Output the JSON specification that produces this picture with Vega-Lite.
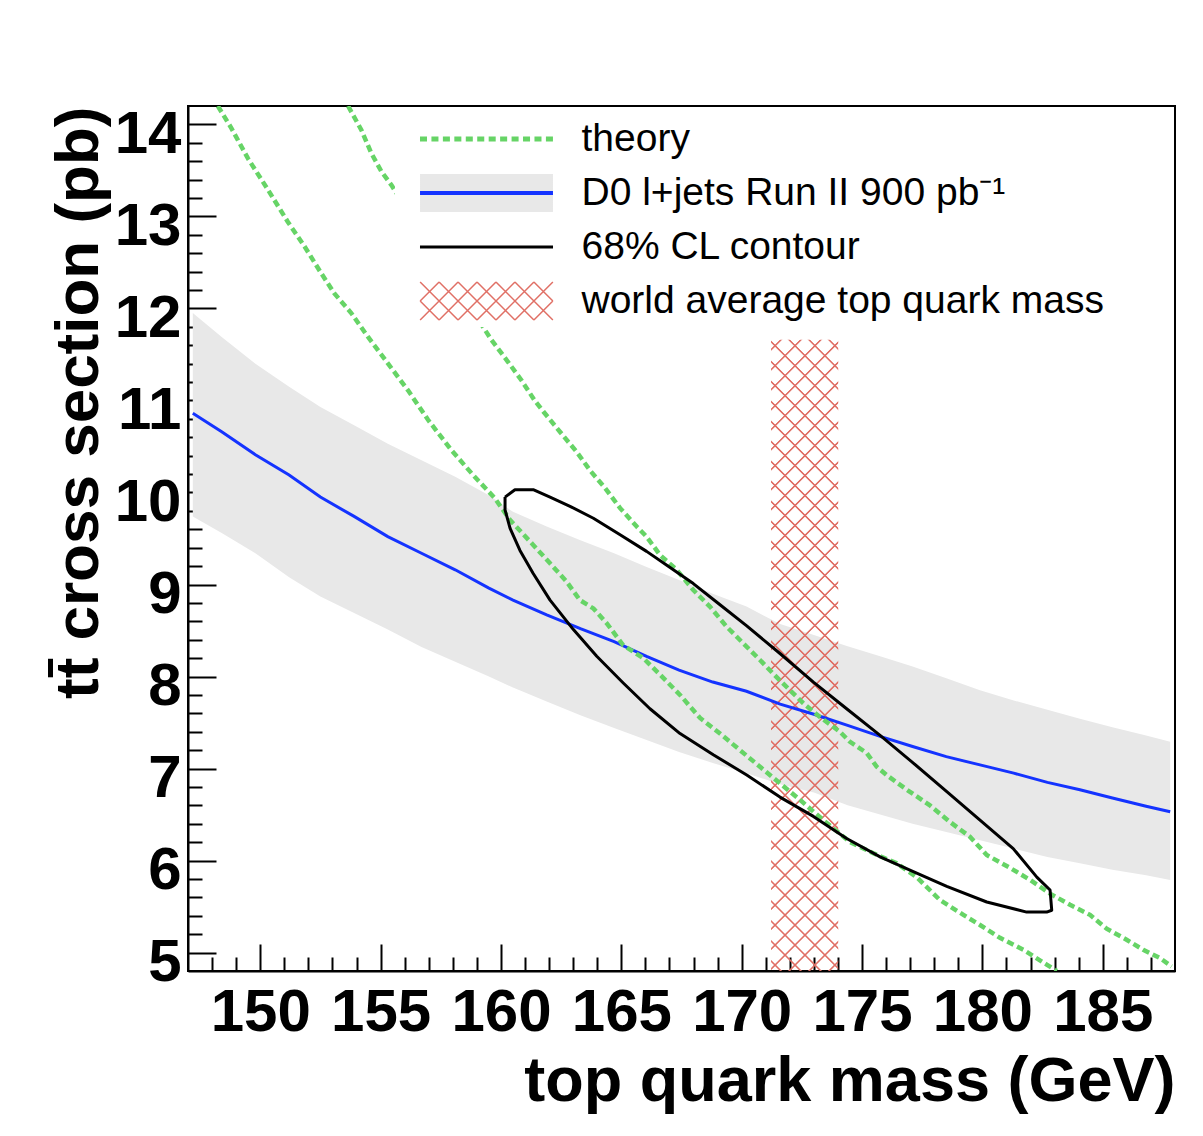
{
  "$schema": "https://vega.github.io/schema/vega-lite/v6.json",
  "width": 987,
  "height": 865,
  "autosize": {"type": "none"},
  "padding": {"left": 188, "top": 106, "right": 28, "bottom": 165},
  "background": "white",
  "config": {
    "view": {"stroke": "black", "strokeWidth": 2},
    "axis": {
      "domainColor": "black", "domainWidth": 2, "grid": false,
      "tickColor": "black", "tickWidth": 2,
      "labelFont": "Liberation Sans", "labelFontWeight": "bold", "labelFontSize": 60, "labelColor": "black",
      "titleFont": "Liberation Sans", "titleFontWeight": "bold", "titleFontSize": 62, "titleColor": "black"
    }
  },
  "datasets": {
    "band": [
      {"m": 147.2, "lo": 9.74, "c": 10.86, "hi": 11.95},
      {"m": 148.4, "lo": 9.56, "c": 10.66, "hi": 11.69},
      {"m": 149.8, "lo": 9.34, "c": 10.41, "hi": 11.40},
      {"m": 151.2, "lo": 9.08, "c": 10.19, "hi": 11.15},
      {"m": 152.5, "lo": 8.87, "c": 9.95, "hi": 10.93},
      {"m": 153.9, "lo": 8.69, "c": 9.74, "hi": 10.73},
      {"m": 155.3, "lo": 8.51, "c": 9.52, "hi": 10.53},
      {"m": 156.7, "lo": 8.32, "c": 9.34, "hi": 10.35},
      {"m": 158.1, "lo": 8.16, "c": 9.16, "hi": 10.17},
      {"m": 159.5, "lo": 8.00, "c": 8.96, "hi": 9.97},
      {"m": 160.5, "lo": 7.88, "c": 8.83, "hi": 9.79},
      {"m": 161.9, "lo": 7.73, "c": 8.67, "hi": 9.63},
      {"m": 163.3, "lo": 7.58, "c": 8.52, "hi": 9.48},
      {"m": 164.7, "lo": 7.44, "c": 8.38, "hi": 9.34},
      {"m": 166.05, "lo": 7.31, "c": 8.22, "hi": 9.19},
      {"m": 167.4, "lo": 7.18, "c": 8.07, "hi": 9.05},
      {"m": 168.8, "lo": 7.06, "c": 7.94, "hi": 8.90},
      {"m": 170.2, "lo": 6.95, "c": 7.84, "hi": 8.76},
      {"m": 171.6, "lo": 6.83, "c": 7.70, "hi": 8.57},
      {"m": 173.0, "lo": 6.74, "c": 7.59, "hi": 8.45},
      {"m": 174.4, "lo": 6.60, "c": 7.47, "hi": 8.33},
      {"m": 175.75, "lo": 6.50, "c": 7.35, "hi": 8.22},
      {"m": 177.1, "lo": 6.40, "c": 7.24, "hi": 8.11},
      {"m": 178.5, "lo": 6.31, "c": 7.13, "hi": 7.98},
      {"m": 179.9, "lo": 6.22, "c": 7.04, "hi": 7.85},
      {"m": 181.3, "lo": 6.13, "c": 6.95, "hi": 7.74},
      {"m": 182.7, "lo": 6.04, "c": 6.85, "hi": 7.64},
      {"m": 184.05, "lo": 5.97, "c": 6.77, "hi": 7.54},
      {"m": 185.4, "lo": 5.90, "c": 6.68, "hi": 7.45},
      {"m": 186.8, "lo": 5.84, "c": 6.59, "hi": 7.36},
      {"m": 187.8, "lo": 5.79, "c": 6.53, "hi": 7.29}
    ],
    "theory": [
      {"m": 148.24, "s": 14.2, "curve": "lo"},
      {"m": 148.80, "s": 13.96, "curve": "lo"},
      {"m": 149.49, "s": 13.63, "curve": "lo"},
      {"m": 150.32, "s": 13.29, "curve": "lo"},
      {"m": 151.15, "s": 12.94, "curve": "lo"},
      {"m": 151.85, "s": 12.67, "curve": "lo"},
      {"m": 152.54, "s": 12.38, "curve": "lo"},
      {"m": 153.09, "s": 12.16, "curve": "lo"},
      {"m": 153.78, "s": 11.95, "curve": "lo"},
      {"m": 154.48, "s": 11.69, "curve": "lo"},
      {"m": 155.31, "s": 11.40, "curve": "lo"},
      {"m": 156.14, "s": 11.11, "curve": "lo"},
      {"m": 156.97, "s": 10.79, "curve": "lo"},
      {"m": 157.94, "s": 10.46, "curve": "lo"},
      {"m": 158.91, "s": 10.17, "curve": "lo"},
      {"m": 159.74, "s": 9.94, "curve": "lo"},
      {"m": 160.38, "s": 9.70, "curve": "lo"},
      {"m": 161.34, "s": 9.43, "curve": "lo"},
      {"m": 162.04, "s": 9.23, "curve": "lo"},
      {"m": 162.73, "s": 9.03, "curve": "lo"},
      {"m": 163.28, "s": 8.83, "curve": "lo"},
      {"m": 163.84, "s": 8.74, "curve": "lo"},
      {"m": 164.39, "s": 8.58, "curve": "lo"},
      {"m": 165.08, "s": 8.34, "curve": "lo"},
      {"m": 165.91, "s": 8.20, "curve": "lo"},
      {"m": 166.61, "s": 8.02, "curve": "lo"},
      {"m": 167.44, "s": 7.80, "curve": "lo"},
      {"m": 168.27, "s": 7.55, "curve": "lo"},
      {"m": 169.10, "s": 7.38, "curve": "lo"},
      {"m": 169.93, "s": 7.20, "curve": "lo"},
      {"m": 170.76, "s": 7.02, "curve": "lo"},
      {"m": 171.59, "s": 6.84, "curve": "lo"},
      {"m": 172.42, "s": 6.66, "curve": "lo"},
      {"m": 173.39, "s": 6.44, "curve": "lo"},
      {"m": 174.50, "s": 6.20, "curve": "lo"},
      {"m": 175.47, "s": 6.08, "curve": "lo"},
      {"m": 176.44, "s": 5.97, "curve": "lo"},
      {"m": 177.27, "s": 5.82, "curve": "lo"},
      {"m": 178.24, "s": 5.57, "curve": "lo"},
      {"m": 179.21, "s": 5.41, "curve": "lo"},
      {"m": 179.90, "s": 5.30, "curve": "lo"},
      {"m": 180.73, "s": 5.16, "curve": "lo"},
      {"m": 181.70, "s": 5.03, "curve": "lo"},
      {"m": 182.67, "s": 4.87, "curve": "lo"},
      {"m": 183.09, "s": 4.80, "curve": "lo"},
      {"m": 153.65, "s": 14.2, "curve": "up"},
      {"m": 154.20, "s": 13.94, "curve": "up"},
      {"m": 154.61, "s": 13.69, "curve": "up"},
      {"m": 155.03, "s": 13.49, "curve": "up"},
      {"m": 155.45, "s": 13.34, "curve": "up"},
      {"m": 159.60, "s": 11.66, "curve": "up"},
      {"m": 160.29, "s": 11.42, "curve": "up"},
      {"m": 160.85, "s": 11.22, "curve": "up"},
      {"m": 161.40, "s": 11.00, "curve": "up"},
      {"m": 161.76, "s": 10.88, "curve": "up"},
      {"m": 162.45, "s": 10.66, "curve": "up"},
      {"m": 163.15, "s": 10.44, "curve": "up"},
      {"m": 163.70, "s": 10.24, "curve": "up"},
      {"m": 164.32, "s": 10.05, "curve": "up"},
      {"m": 164.95, "s": 9.83, "curve": "up"},
      {"m": 165.64, "s": 9.63, "curve": "up"},
      {"m": 166.05, "s": 9.52, "curve": "up"},
      {"m": 166.61, "s": 9.32, "curve": "up"},
      {"m": 167.30, "s": 9.16, "curve": "up"},
      {"m": 167.99, "s": 8.94, "curve": "up"},
      {"m": 168.68, "s": 8.76, "curve": "up"},
      {"m": 169.38, "s": 8.54, "curve": "up"},
      {"m": 170.07, "s": 8.36, "curve": "up"},
      {"m": 170.76, "s": 8.18, "curve": "up"},
      {"m": 171.31, "s": 8.03, "curve": "up"},
      {"m": 172.01, "s": 7.85, "curve": "up"},
      {"m": 172.56, "s": 7.71, "curve": "up"},
      {"m": 173.25, "s": 7.56, "curve": "up"},
      {"m": 174.08, "s": 7.40, "curve": "up"},
      {"m": 174.50, "s": 7.29, "curve": "up"},
      {"m": 175.19, "s": 7.17, "curve": "up"},
      {"m": 175.61, "s": 7.02, "curve": "up"},
      {"m": 176.02, "s": 6.93, "curve": "up"},
      {"m": 176.86, "s": 6.77, "curve": "up"},
      {"m": 177.82, "s": 6.60, "curve": "up"},
      {"m": 178.65, "s": 6.42, "curve": "up"},
      {"m": 179.48, "s": 6.26, "curve": "up"},
      {"m": 180.18, "s": 6.06, "curve": "up"},
      {"m": 181.15, "s": 5.92, "curve": "up"},
      {"m": 181.98, "s": 5.79, "curve": "up"},
      {"m": 182.81, "s": 5.64, "curve": "up"},
      {"m": 183.64, "s": 5.52, "curve": "up"},
      {"m": 184.47, "s": 5.41, "curve": "up"},
      {"m": 185.16, "s": 5.26, "curve": "up"},
      {"m": 185.99, "s": 5.14, "curve": "up"},
      {"m": 186.68, "s": 5.03, "curve": "up"},
      {"m": 187.38, "s": 4.94, "curve": "up"},
      {"m": 187.86, "s": 4.85, "curve": "up"}
    ],
    "contour": [
      {"ord": 1, "m": 160.17, "s": 9.95, "series": "68% CL contour"},
      {"ord": 2, "m": 160.58, "s": 10.03, "series": "68% CL contour"},
      {"ord": 3, "m": 161.34, "s": 10.03, "series": "68% CL contour"},
      {"ord": 4, "m": 162.04, "s": 9.95, "series": "68% CL contour"},
      {"ord": 5, "m": 162.87, "s": 9.85, "series": "68% CL contour"},
      {"ord": 6, "m": 163.84, "s": 9.72, "series": "68% CL contour"},
      {"ord": 7, "m": 164.95, "s": 9.54, "series": "68% CL contour"},
      {"ord": 8, "m": 166.05, "s": 9.36, "series": "68% CL contour"},
      {"ord": 9, "m": 166.89, "s": 9.21, "series": "68% CL contour"},
      {"ord": 10, "m": 167.99, "s": 9.01, "series": "68% CL contour"},
      {"ord": 11, "m": 169.10, "s": 8.78, "series": "68% CL contour"},
      {"ord": 12, "m": 170.21, "s": 8.55, "series": "68% CL contour"},
      {"ord": 13, "m": 171.59, "s": 8.25, "series": "68% CL contour"},
      {"ord": 14, "m": 172.98, "s": 7.94, "series": "68% CL contour"},
      {"ord": 15, "m": 174.36, "s": 7.65, "series": "68% CL contour"},
      {"ord": 16, "m": 175.75, "s": 7.36, "series": "68% CL contour"},
      {"ord": 17, "m": 177.13, "s": 7.06, "series": "68% CL contour"},
      {"ord": 18, "m": 178.52, "s": 6.75, "series": "68% CL contour"},
      {"ord": 19, "m": 179.90, "s": 6.44, "series": "68% CL contour"},
      {"ord": 20, "m": 181.28, "s": 6.13, "series": "68% CL contour"},
      {"ord": 21, "m": 182.26, "s": 5.82, "series": "68% CL contour"},
      {"ord": 22, "m": 182.81, "s": 5.68, "series": "68% CL contour"},
      {"ord": 23, "m": 182.88, "s": 5.46, "series": "68% CL contour"},
      {"ord": 24, "m": 182.67, "s": 5.44, "series": "68% CL contour"},
      {"ord": 25, "m": 181.84, "s": 5.44, "series": "68% CL contour"},
      {"ord": 26, "m": 180.18, "s": 5.55, "series": "68% CL contour"},
      {"ord": 27, "m": 178.52, "s": 5.72, "series": "68% CL contour"},
      {"ord": 28, "m": 177.13, "s": 5.88, "series": "68% CL contour"},
      {"ord": 29, "m": 175.75, "s": 6.04, "series": "68% CL contour"},
      {"ord": 30, "m": 174.36, "s": 6.24, "series": "68% CL contour"},
      {"ord": 31, "m": 172.98, "s": 6.48, "series": "68% CL contour"},
      {"ord": 32, "m": 171.59, "s": 6.69, "series": "68% CL contour"},
      {"ord": 33, "m": 170.21, "s": 6.93, "series": "68% CL contour"},
      {"ord": 34, "m": 168.82, "s": 7.15, "series": "68% CL contour"},
      {"ord": 35, "m": 167.44, "s": 7.38, "series": "68% CL contour"},
      {"ord": 36, "m": 166.19, "s": 7.65, "series": "68% CL contour"},
      {"ord": 37, "m": 165.08, "s": 7.93, "series": "68% CL contour"},
      {"ord": 38, "m": 163.98, "s": 8.22, "series": "68% CL contour"},
      {"ord": 39, "m": 163.01, "s": 8.51, "series": "68% CL contour"},
      {"ord": 40, "m": 162.04, "s": 8.83, "series": "68% CL contour"},
      {"ord": 41, "m": 161.34, "s": 9.12, "series": "68% CL contour"},
      {"ord": 42, "m": 160.79, "s": 9.37, "series": "68% CL contour"},
      {"ord": 43, "m": 160.38, "s": 9.61, "series": "68% CL contour"},
      {"ord": 44, "m": 160.17, "s": 9.81, "series": "68% CL contour"},
      {"ord": 45, "m": 160.17, "s": 9.95, "series": "68% CL contour"}
    ],
    "wa": [
      {"m1": 171.22, "m2": 174.01, "s1": 4.8, "s2": 11.66}
    ]
  },
  "layer": [
    {
      "data": {"name": "band"},
      "mark": {"type": "area", "fill": "#e8e8e8", "clip": true},
      "encoding": {
        "x": {
          "field": "m", "type": "quantitative",
          "scale": {"domain": [147, 188], "nice": false, "zero": false},
          "axis": {
            "title": "top quark mass (GeV)",
            "titleFontSize": 63,
            "values": [148,149,150,151,152,153,154,155,156,157,158,159,160,161,162,163,164,165,166,167,168,169,170,171,172,173,174,175,176,177,178,179,180,181,182,183,184,185,186,187],
            "tickCount": 200,
            "labelExpr": "datum.value % 5 === 0 ? '' + datum.value : ''",
            "labelOverlap": false, "labelFlush": false,
            "tickSize": {"condition": {"test": "datum.value % 5 === 0", "value": -27}, "value": -14},
            "labelPadding": 39,
            "titleAnchor": "end", "titlePadding": -5
          }
        },
        "y": {
          "field": "lo", "type": "quantitative",
          "scale": {"domain": [4.8, 14.2], "nice": false, "zero": false},
          "axis": {
            "title": "tt\u0304 cross section (pb)",
            "values": [5,5.2,5.4,5.6,5.8,6,6.2,6.4,6.6,6.8,7,7.2,7.4,7.6,7.8,8,8.2,8.4,8.6,8.8,9,9.2,9.4,9.6,9.8,10,10.2,10.4,10.6,10.8,11,11.2,11.4,11.6,11.8,12,12.2,12.4,12.6,12.8,13,13.2,13.4,13.6,13.8,14],
            "tickCount": 200,
            "labelExpr": "abs(datum.value - round(datum.value)) < 0.001 ? '' + round(datum.value) : ''",
            "labelOverlap": false, "labelFlush": false,
            "tickSize": {"condition": {"test": "abs(datum.value - round(datum.value)) < 0.001", "value": -28}, "value": -14},
            "labelPadding": 35, "labelOffset": 10,
            "titleAnchor": "end", "titlePadding": 4
          }
        },
        "y2": {"field": "hi"}
      }
    },
    {
      "data": {"name": "wa"},
      "mark": {
        "type": "rect", "clip": true,
        "fill": {
          "gradient": "linear", "x1": 0, "y1": 0, "x2": 0.1167, "y2": 1.0942,
          "stops": [
            {"offset":0.0119,"color":"rgba(224,112,102,0)"},{"offset":0.0135,"color":"#e07066"},{"offset":0.0151,"color":"#e07066"},{"offset":0.0167,"color":"rgba(224,112,102,0)"},
            {"offset":0.0405,"color":"rgba(224,112,102,0)"},{"offset":0.0421,"color":"#e07066"},{"offset":0.0437,"color":"#e07066"},{"offset":0.0453,"color":"rgba(224,112,102,0)"},
            {"offset":0.0691,"color":"rgba(224,112,102,0)"},{"offset":0.0707,"color":"#e07066"},{"offset":0.0723,"color":"#e07066"},{"offset":0.0739,"color":"rgba(224,112,102,0)"},
            {"offset":0.0977,"color":"rgba(224,112,102,0)"},{"offset":0.0993,"color":"#e07066"},{"offset":0.1009,"color":"#e07066"},{"offset":0.1025,"color":"rgba(224,112,102,0)"},
            {"offset":0.1263,"color":"rgba(224,112,102,0)"},{"offset":0.1279,"color":"#e07066"},{"offset":0.1295,"color":"#e07066"},{"offset":0.1311,"color":"rgba(224,112,102,0)"},
            {"offset":0.1549,"color":"rgba(224,112,102,0)"},{"offset":0.1565,"color":"#e07066"},{"offset":0.1581,"color":"#e07066"},{"offset":0.1597,"color":"rgba(224,112,102,0)"},
            {"offset":0.1835,"color":"rgba(224,112,102,0)"},{"offset":0.1851,"color":"#e07066"},{"offset":0.1867,"color":"#e07066"},{"offset":0.1883,"color":"rgba(224,112,102,0)"},
            {"offset":0.2121,"color":"rgba(224,112,102,0)"},{"offset":0.2137,"color":"#e07066"},{"offset":0.2153,"color":"#e07066"},{"offset":0.2169,"color":"rgba(224,112,102,0)"},
            {"offset":0.2407,"color":"rgba(224,112,102,0)"},{"offset":0.2423,"color":"#e07066"},{"offset":0.2439,"color":"#e07066"},{"offset":0.2455,"color":"rgba(224,112,102,0)"},
            {"offset":0.2693,"color":"rgba(224,112,102,0)"},{"offset":0.2709,"color":"#e07066"},{"offset":0.2725,"color":"#e07066"},{"offset":0.2741,"color":"rgba(224,112,102,0)"},
            {"offset":0.2979,"color":"rgba(224,112,102,0)"},{"offset":0.2995,"color":"#e07066"},{"offset":0.3011,"color":"#e07066"},{"offset":0.3027,"color":"rgba(224,112,102,0)"},
            {"offset":0.3265,"color":"rgba(224,112,102,0)"},{"offset":0.3281,"color":"#e07066"},{"offset":0.3297,"color":"#e07066"},{"offset":0.3313,"color":"rgba(224,112,102,0)"},
            {"offset":0.3551,"color":"rgba(224,112,102,0)"},{"offset":0.3567,"color":"#e07066"},{"offset":0.3583,"color":"#e07066"},{"offset":0.3599,"color":"rgba(224,112,102,0)"},
            {"offset":0.3837,"color":"rgba(224,112,102,0)"},{"offset":0.3853,"color":"#e07066"},{"offset":0.3869,"color":"#e07066"},{"offset":0.3885,"color":"rgba(224,112,102,0)"},
            {"offset":0.4123,"color":"rgba(224,112,102,0)"},{"offset":0.4139,"color":"#e07066"},{"offset":0.4155,"color":"#e07066"},{"offset":0.4171,"color":"rgba(224,112,102,0)"},
            {"offset":0.4409,"color":"rgba(224,112,102,0)"},{"offset":0.4425,"color":"#e07066"},{"offset":0.4441,"color":"#e07066"},{"offset":0.4457,"color":"rgba(224,112,102,0)"},
            {"offset":0.4695,"color":"rgba(224,112,102,0)"},{"offset":0.4711,"color":"#e07066"},{"offset":0.4727,"color":"#e07066"},{"offset":0.4743,"color":"rgba(224,112,102,0)"},
            {"offset":0.4981,"color":"rgba(224,112,102,0)"},{"offset":0.4997,"color":"#e07066"},{"offset":0.5013,"color":"#e07066"},{"offset":0.5029,"color":"rgba(224,112,102,0)"},
            {"offset":0.5267,"color":"rgba(224,112,102,0)"},{"offset":0.5283,"color":"#e07066"},{"offset":0.5299,"color":"#e07066"},{"offset":0.5315,"color":"rgba(224,112,102,0)"},
            {"offset":0.5553,"color":"rgba(224,112,102,0)"},{"offset":0.5569,"color":"#e07066"},{"offset":0.5585,"color":"#e07066"},{"offset":0.5601,"color":"rgba(224,112,102,0)"},
            {"offset":0.5839,"color":"rgba(224,112,102,0)"},{"offset":0.5855,"color":"#e07066"},{"offset":0.5871,"color":"#e07066"},{"offset":0.5887,"color":"rgba(224,112,102,0)"},
            {"offset":0.6125,"color":"rgba(224,112,102,0)"},{"offset":0.6141,"color":"#e07066"},{"offset":0.6157,"color":"#e07066"},{"offset":0.6173,"color":"rgba(224,112,102,0)"},
            {"offset":0.6411,"color":"rgba(224,112,102,0)"},{"offset":0.6427,"color":"#e07066"},{"offset":0.6443,"color":"#e07066"},{"offset":0.6459,"color":"rgba(224,112,102,0)"},
            {"offset":0.6697,"color":"rgba(224,112,102,0)"},{"offset":0.6713,"color":"#e07066"},{"offset":0.6729,"color":"#e07066"},{"offset":0.6745,"color":"rgba(224,112,102,0)"},
            {"offset":0.6983,"color":"rgba(224,112,102,0)"},{"offset":0.6999,"color":"#e07066"},{"offset":0.7015,"color":"#e07066"},{"offset":0.7031,"color":"rgba(224,112,102,0)"},
            {"offset":0.7269,"color":"rgba(224,112,102,0)"},{"offset":0.7285,"color":"#e07066"},{"offset":0.7301,"color":"#e07066"},{"offset":0.7317,"color":"rgba(224,112,102,0)"},
            {"offset":0.7555,"color":"rgba(224,112,102,0)"},{"offset":0.7571,"color":"#e07066"},{"offset":0.7587,"color":"#e07066"},{"offset":0.7603,"color":"rgba(224,112,102,0)"},
            {"offset":0.7841,"color":"rgba(224,112,102,0)"},{"offset":0.7857,"color":"#e07066"},{"offset":0.7873,"color":"#e07066"},{"offset":0.7889,"color":"rgba(224,112,102,0)"},
            {"offset":0.8127,"color":"rgba(224,112,102,0)"},{"offset":0.8143,"color":"#e07066"},{"offset":0.8159,"color":"#e07066"},{"offset":0.8175,"color":"rgba(224,112,102,0)"},
            {"offset":0.8413,"color":"rgba(224,112,102,0)"},{"offset":0.8429,"color":"#e07066"},{"offset":0.8445,"color":"#e07066"},{"offset":0.8461,"color":"rgba(224,112,102,0)"},
            {"offset":0.8699,"color":"rgba(224,112,102,0)"},{"offset":0.8715,"color":"#e07066"},{"offset":0.8731,"color":"#e07066"},{"offset":0.8747,"color":"rgba(224,112,102,0)"},
            {"offset":0.8985,"color":"rgba(224,112,102,0)"},{"offset":0.9001,"color":"#e07066"},{"offset":0.9017,"color":"#e07066"},{"offset":0.9033,"color":"rgba(224,112,102,0)"},
            {"offset":0.9271,"color":"rgba(224,112,102,0)"},{"offset":0.9287,"color":"#e07066"},{"offset":0.9303,"color":"#e07066"},{"offset":0.9319,"color":"rgba(224,112,102,0)"},
            {"offset":0.9557,"color":"rgba(224,112,102,0)"},{"offset":0.9573,"color":"#e07066"},{"offset":0.9589,"color":"#e07066"},{"offset":0.9605,"color":"rgba(224,112,102,0)"},
            {"offset":0.9843,"color":"rgba(224,112,102,0)"},{"offset":0.9859,"color":"#e07066"},{"offset":0.9875,"color":"#e07066"},{"offset":0.9891,"color":"rgba(224,112,102,0)"}
          ]
        }
      },
      "encoding": {
        "x": {"field": "m1", "type": "quantitative"},
        "x2": {"field": "m2"},
        "y": {"field": "s1", "type": "quantitative"},
        "y2": {"field": "s2"}
      }
    },
    {
      "data": {"name": "wa"},
      "mark": {
        "type": "rect", "clip": true,
        "fill": {
          "gradient": "linear", "x1": 0, "y1": 1, "x2": 0.1167, "y2": -0.0942,
          "stops": [
            {"offset":0.0119,"color":"rgba(224,112,102,0)"},{"offset":0.0135,"color":"#e07066"},{"offset":0.0151,"color":"#e07066"},{"offset":0.0167,"color":"rgba(224,112,102,0)"},
            {"offset":0.0405,"color":"rgba(224,112,102,0)"},{"offset":0.0421,"color":"#e07066"},{"offset":0.0437,"color":"#e07066"},{"offset":0.0453,"color":"rgba(224,112,102,0)"},
            {"offset":0.0691,"color":"rgba(224,112,102,0)"},{"offset":0.0707,"color":"#e07066"},{"offset":0.0723,"color":"#e07066"},{"offset":0.0739,"color":"rgba(224,112,102,0)"},
            {"offset":0.0977,"color":"rgba(224,112,102,0)"},{"offset":0.0993,"color":"#e07066"},{"offset":0.1009,"color":"#e07066"},{"offset":0.1025,"color":"rgba(224,112,102,0)"},
            {"offset":0.1263,"color":"rgba(224,112,102,0)"},{"offset":0.1279,"color":"#e07066"},{"offset":0.1295,"color":"#e07066"},{"offset":0.1311,"color":"rgba(224,112,102,0)"},
            {"offset":0.1549,"color":"rgba(224,112,102,0)"},{"offset":0.1565,"color":"#e07066"},{"offset":0.1581,"color":"#e07066"},{"offset":0.1597,"color":"rgba(224,112,102,0)"},
            {"offset":0.1835,"color":"rgba(224,112,102,0)"},{"offset":0.1851,"color":"#e07066"},{"offset":0.1867,"color":"#e07066"},{"offset":0.1883,"color":"rgba(224,112,102,0)"},
            {"offset":0.2121,"color":"rgba(224,112,102,0)"},{"offset":0.2137,"color":"#e07066"},{"offset":0.2153,"color":"#e07066"},{"offset":0.2169,"color":"rgba(224,112,102,0)"},
            {"offset":0.2407,"color":"rgba(224,112,102,0)"},{"offset":0.2423,"color":"#e07066"},{"offset":0.2439,"color":"#e07066"},{"offset":0.2455,"color":"rgba(224,112,102,0)"},
            {"offset":0.2693,"color":"rgba(224,112,102,0)"},{"offset":0.2709,"color":"#e07066"},{"offset":0.2725,"color":"#e07066"},{"offset":0.2741,"color":"rgba(224,112,102,0)"},
            {"offset":0.2979,"color":"rgba(224,112,102,0)"},{"offset":0.2995,"color":"#e07066"},{"offset":0.3011,"color":"#e07066"},{"offset":0.3027,"color":"rgba(224,112,102,0)"},
            {"offset":0.3265,"color":"rgba(224,112,102,0)"},{"offset":0.3281,"color":"#e07066"},{"offset":0.3297,"color":"#e07066"},{"offset":0.3313,"color":"rgba(224,112,102,0)"},
            {"offset":0.3551,"color":"rgba(224,112,102,0)"},{"offset":0.3567,"color":"#e07066"},{"offset":0.3583,"color":"#e07066"},{"offset":0.3599,"color":"rgba(224,112,102,0)"},
            {"offset":0.3837,"color":"rgba(224,112,102,0)"},{"offset":0.3853,"color":"#e07066"},{"offset":0.3869,"color":"#e07066"},{"offset":0.3885,"color":"rgba(224,112,102,0)"},
            {"offset":0.4123,"color":"rgba(224,112,102,0)"},{"offset":0.4139,"color":"#e07066"},{"offset":0.4155,"color":"#e07066"},{"offset":0.4171,"color":"rgba(224,112,102,0)"},
            {"offset":0.4409,"color":"rgba(224,112,102,0)"},{"offset":0.4425,"color":"#e07066"},{"offset":0.4441,"color":"#e07066"},{"offset":0.4457,"color":"rgba(224,112,102,0)"},
            {"offset":0.4695,"color":"rgba(224,112,102,0)"},{"offset":0.4711,"color":"#e07066"},{"offset":0.4727,"color":"#e07066"},{"offset":0.4743,"color":"rgba(224,112,102,0)"},
            {"offset":0.4981,"color":"rgba(224,112,102,0)"},{"offset":0.4997,"color":"#e07066"},{"offset":0.5013,"color":"#e07066"},{"offset":0.5029,"color":"rgba(224,112,102,0)"},
            {"offset":0.5267,"color":"rgba(224,112,102,0)"},{"offset":0.5283,"color":"#e07066"},{"offset":0.5299,"color":"#e07066"},{"offset":0.5315,"color":"rgba(224,112,102,0)"},
            {"offset":0.5553,"color":"rgba(224,112,102,0)"},{"offset":0.5569,"color":"#e07066"},{"offset":0.5585,"color":"#e07066"},{"offset":0.5601,"color":"rgba(224,112,102,0)"},
            {"offset":0.5839,"color":"rgba(224,112,102,0)"},{"offset":0.5855,"color":"#e07066"},{"offset":0.5871,"color":"#e07066"},{"offset":0.5887,"color":"rgba(224,112,102,0)"},
            {"offset":0.6125,"color":"rgba(224,112,102,0)"},{"offset":0.6141,"color":"#e07066"},{"offset":0.6157,"color":"#e07066"},{"offset":0.6173,"color":"rgba(224,112,102,0)"},
            {"offset":0.6411,"color":"rgba(224,112,102,0)"},{"offset":0.6427,"color":"#e07066"},{"offset":0.6443,"color":"#e07066"},{"offset":0.6459,"color":"rgba(224,112,102,0)"},
            {"offset":0.6697,"color":"rgba(224,112,102,0)"},{"offset":0.6713,"color":"#e07066"},{"offset":0.6729,"color":"#e07066"},{"offset":0.6745,"color":"rgba(224,112,102,0)"},
            {"offset":0.6983,"color":"rgba(224,112,102,0)"},{"offset":0.6999,"color":"#e07066"},{"offset":0.7015,"color":"#e07066"},{"offset":0.7031,"color":"rgba(224,112,102,0)"},
            {"offset":0.7269,"color":"rgba(224,112,102,0)"},{"offset":0.7285,"color":"#e07066"},{"offset":0.7301,"color":"#e07066"},{"offset":0.7317,"color":"rgba(224,112,102,0)"},
            {"offset":0.7555,"color":"rgba(224,112,102,0)"},{"offset":0.7571,"color":"#e07066"},{"offset":0.7587,"color":"#e07066"},{"offset":0.7603,"color":"rgba(224,112,102,0)"},
            {"offset":0.7841,"color":"rgba(224,112,102,0)"},{"offset":0.7857,"color":"#e07066"},{"offset":0.7873,"color":"#e07066"},{"offset":0.7889,"color":"rgba(224,112,102,0)"},
            {"offset":0.8127,"color":"rgba(224,112,102,0)"},{"offset":0.8143,"color":"#e07066"},{"offset":0.8159,"color":"#e07066"},{"offset":0.8175,"color":"rgba(224,112,102,0)"},
            {"offset":0.8413,"color":"rgba(224,112,102,0)"},{"offset":0.8429,"color":"#e07066"},{"offset":0.8445,"color":"#e07066"},{"offset":0.8461,"color":"rgba(224,112,102,0)"},
            {"offset":0.8699,"color":"rgba(224,112,102,0)"},{"offset":0.8715,"color":"#e07066"},{"offset":0.8731,"color":"#e07066"},{"offset":0.8747,"color":"rgba(224,112,102,0)"},
            {"offset":0.8985,"color":"rgba(224,112,102,0)"},{"offset":0.9001,"color":"#e07066"},{"offset":0.9017,"color":"#e07066"},{"offset":0.9033,"color":"rgba(224,112,102,0)"},
            {"offset":0.9271,"color":"rgba(224,112,102,0)"},{"offset":0.9287,"color":"#e07066"},{"offset":0.9303,"color":"#e07066"},{"offset":0.9319,"color":"rgba(224,112,102,0)"},
            {"offset":0.9557,"color":"rgba(224,112,102,0)"},{"offset":0.9573,"color":"#e07066"},{"offset":0.9589,"color":"#e07066"},{"offset":0.9605,"color":"rgba(224,112,102,0)"},
            {"offset":0.9843,"color":"rgba(224,112,102,0)"},{"offset":0.9859,"color":"#e07066"},{"offset":0.9875,"color":"#e07066"},{"offset":0.9891,"color":"rgba(224,112,102,0)"}
          ]
        }
      },
      "encoding": {
        "x": {"field": "m1", "type": "quantitative"},
        "x2": {"field": "m2"},
        "y": {"field": "s1", "type": "quantitative"},
        "y2": {"field": "s2"}
      }
    },
    {
      "data": {"name": "band"},
      "mark": {"type": "line", "color": "#1433ff", "strokeWidth": 3, "clip": true},
      "encoding": {
        "x": {"field": "m", "type": "quantitative"},
        "y": {"field": "c", "type": "quantitative"}
      }
    },
    {
      "data": {"name": "theory"},
      "mark": {"type": "line", "color": "#66d466", "strokeWidth": 4.5, "strokeDash": [7, 4], "clip": true},
      "encoding": {
        "x": {"field": "m", "type": "quantitative"},
        "y": {"field": "s", "type": "quantitative"},
        "detail": {"field": "curve"}
      }
    },
    {
      "data": {"name": "contour"},
      "mark": {"type": "line", "strokeWidth": 3, "strokeJoin": "round", "clip": true},
      "encoding": {
        "x": {"field": "m", "type": "quantitative"},
        "y": {"field": "s", "type": "quantitative"},
        "order": {"field": "ord", "type": "quantitative"},
        "color": {
          "field": "series", "type": "nominal",
          "scale": {"domain": ["theory", "D0 l+jets Run II 900 pb\u207b\u00b9", "68% CL contour", "world average top quark mass"], "range": ["#66d466", "#1433ff", "black", "#e07066"]},
          "legend": {
            "title": null,
            "orient": "none", "legendX": 207, "legendY": 4,
            "padding": 4, "fillColor": "white",
            "symbolSize": 2304, "symbolStrokeWidth": 1.5,
            "symbolOffset": 62.5, "labelOffset": 70,
            "rowPadding": 9,
            "labelFont": "Liberation Sans", "labelFontSize": 39, "labelFontWeight": "normal", "labelColor": "black", "labelLimit": 900,
            "encode": {
              "symbols": {
                "update": {
                  "shape": {"signal": "datum.value === 'theory' ? 'M-2.74,-0.07H-2.51V0.07H-2.74Z M-2.263,-0.07H-2.033V0.07H-2.263Z M-1.786,-0.07H-1.556V0.07H-1.786Z M-1.309,-0.07H-1.079V0.07H-1.309Z M-0.832,-0.07H-0.602V0.07H-0.832Z M-0.355,-0.07H-0.125V0.07H-0.355Z M0.122,-0.07H0.352V0.07H0.122Z M0.599,-0.07H0.829V0.07H0.599Z M1.076,-0.07H1.306V0.07H1.076Z M1.553,-0.07H1.783V0.07H1.553Z M2.03,-0.07H2.26V0.07H2.03Z M2.507,-0.07H2.737V0.07H2.507Z' : datum.value === '68% CL contour' ? 'M-2.74,-0.032H2.74V0.032H-2.74Z' : datum.value === 'world average top quark mass' ? 'M-2.765,0L-1.975,-0.79M-2.765,0.79L-1.185,-0.79M-1.975,0.79L-0.395,-0.79M-1.185,0.79L0.395,-0.79M-0.395,0.79L1.185,-0.79M0.395,0.79L1.975,-0.79M1.185,0.79L2.765,-0.79M1.975,0.79L2.765,0M-2.765,0L-1.975,0.79M-2.765,-0.79L-1.185,0.79M-1.975,-0.79L-0.395,0.79M-1.185,-0.79L0.395,0.79M-0.395,-0.79L1.185,0.79M0.395,-0.79L1.975,0.79M1.185,-0.79L2.765,0.79M1.975,-0.79L2.765,0' : 'M-2.77,-0.79H2.77V0.79H-2.77Z'"},
                  "fill": {"signal": "datum.value === 'theory' ? '#66d466' : datum.value === '68% CL contour' ? 'black' : datum.value === 'world average top quark mass' ? 'transparent' : {gradient: 'linear', x1: 0, y1: 0, x2: 0, y2: 1, stops: [{offset: 0, color: '#e8e8e8'}, {offset: 0.46, color: '#e8e8e8'}, {offset: 0.46, color: '#1433ff'}, {offset: 0.54, color: '#1433ff'}, {offset: 0.54, color: '#e8e8e8'}, {offset: 1, color: '#e8e8e8'}]}"},
                  "strokeOpacity": {"signal": "datum.value === 'theory' || datum.value === '68% CL contour' || datum.value === 'world average top quark mass' ? 1 : 0"},
                  "strokeWidth": {"value": 1.5},
                  "strokeDash": {"value": []},
                  "opacity": {"value": 1},
                  "fillOpacity": {"value": 1}
                }
              }
            }
          }
        }
      }
    }
  ]
}
